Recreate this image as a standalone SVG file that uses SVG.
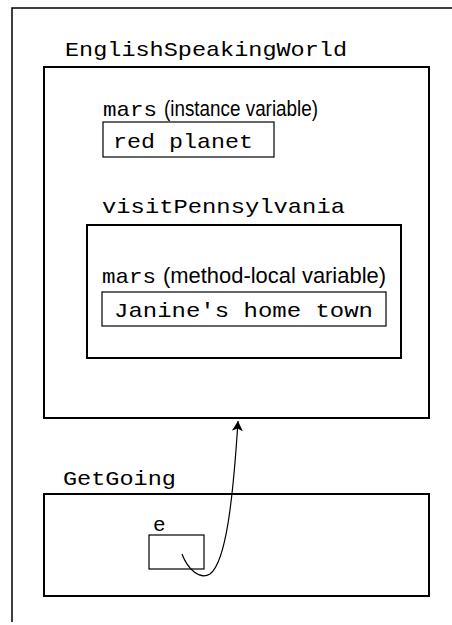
<svg xmlns="http://www.w3.org/2000/svg" width="452" height="625" viewBox="0 0 452 625">
<defs>
<style>
.big{fill:none;stroke:#000;stroke-width:2}
.small{fill:none;stroke:#000;stroke-width:1.2}
.mono{font-family:"Liberation Mono","Courier New",monospace;font-size:21px;fill:#000}
.sans{font-family:"Liberation Sans Narrow","Liberation Sans",Arial,sans-serif;font-size:22px;fill:#000}
</style>
<marker id="ah" viewBox="0 0 10 14" refX="10" refY="7" markerWidth="10" markerHeight="14" markerUnits="userSpaceOnUse" orient="auto">
<path d="M0,1.5 L10,7 L0,12.5 L2.5,7 Z" fill="#000"/>
</marker>
</defs>
<rect width="452" height="625" fill="#fff"/>
<path d="M12,622 V8 H452" fill="none" stroke="#000" stroke-width="1.5"/>
<g id="EnglishSpeakingWorld">
<text class="mono" x="65" y="56" textLength="282" lengthAdjust="spacingAndGlyphs">EnglishSpeakingWorld</text>
<rect class="big" x="44" y="67" width="385" height="351"/>
</g>
<g id="instanceMars">
<text x="103" y="116"><tspan class="mono" textLength="54" lengthAdjust="spacingAndGlyphs">mars</tspan><tspan class="sans" x="164" textLength="154" lengthAdjust="spacingAndGlyphs">(instance variable)</tspan></text>
<rect class="small" x="103" y="122" width="171" height="35"/>
<text class="mono" x="113" y="148" textLength="140" lengthAdjust="spacingAndGlyphs">red planet</text>
</g>
<g id="visitPennsylvania">
<text class="mono" x="102" y="213" textLength="243" lengthAdjust="spacingAndGlyphs">visitPennsylvania</text>
<rect class="big" x="87" y="225" width="314" height="133"/>
</g>
<g id="localMars">
<text x="102" y="283"><tspan class="mono" textLength="54" lengthAdjust="spacingAndGlyphs">mars</tspan><tspan class="sans" x="163" textLength="223" lengthAdjust="spacingAndGlyphs">(method-local variable)</tspan></text>
<rect class="small" x="102" y="292" width="284" height="34"/>
<text class="mono" x="114" y="317" textLength="259" lengthAdjust="spacingAndGlyphs">Janine's home town</text>
</g>
<g id="GetGoing">
<text class="mono" x="63" y="485" textLength="113" lengthAdjust="spacingAndGlyphs">GetGoing</text>
<rect class="big" x="44" y="494" width="385" height="102"/>
</g>
<g id="e">
<text class="mono" x="153" y="531">e</text>
<rect class="small" x="149" y="535" width="55" height="34"/>
</g>
<g id="connectors">
<path d="M182,554 C188,570 200,580 210,574 C226,562 233,500 238,421" fill="none" stroke="#000" stroke-width="1.2" marker-end="url(#ah)"/>
</g>
</svg>
